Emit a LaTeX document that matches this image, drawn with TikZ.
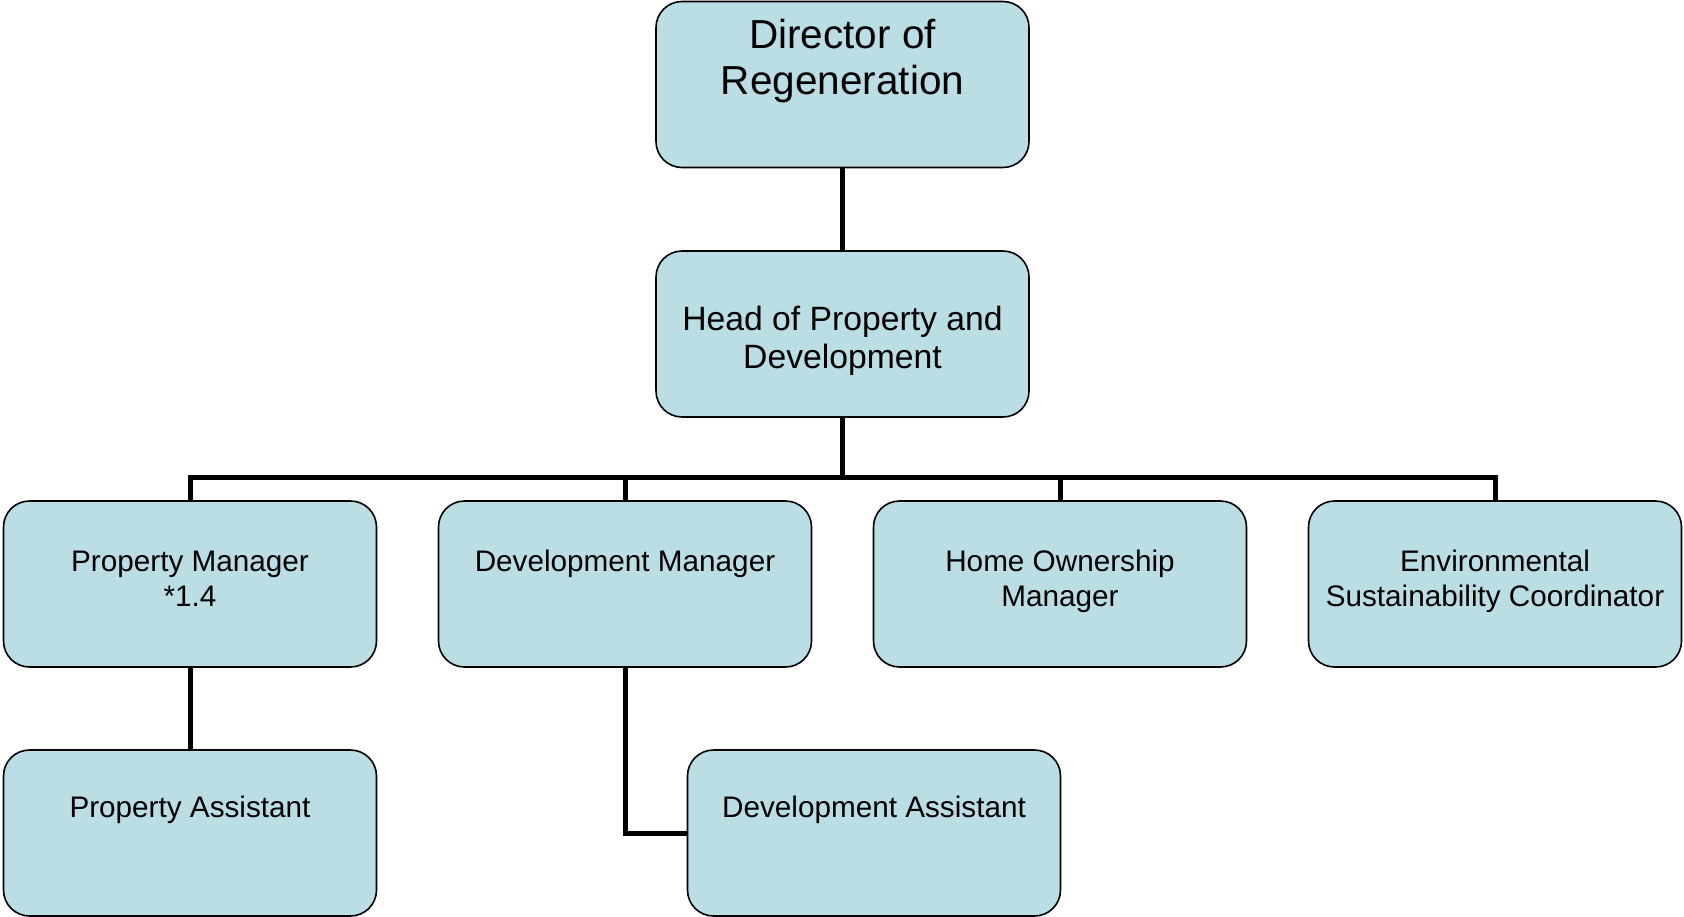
\documentclass[tikz,border=0pt]{standalone}
\usepackage{fontspec}
\setmainfont{Liberation Sans}
\definecolor{boxfill}{HTML}{BADEE4}
% centred lines whose reference point is the first baseline
\newcommand\stacked[1]{\begin{tabular}[t]{@{}c@{}}#1\end{tabular}}
\begin{document}
\begin{tikzpicture}[x=1pt,y=-1pt,
  post/.style={draw=black, line width=1.6pt, fill=boxfill, rounded corners=26pt,
               minimum width=373pt, minimum height=166pt, inner sep=0pt},
  caption/.style={anchor=base, inner sep=0pt},
  bigtext/.style={font=\fontsize{40.5}{46}\selectfont},
  midtext/.style={font=\fontsize{33.7}{38}\selectfont},
  smalltext/.style={font=\fontsize{29.7}{35}\selectfont},
  wire/.style={line width=5pt, line cap=butt, line join=miter}]
\useasboundingbox (0,0) rectangle (1684,916);

% boxes
\node[post] (dir)  at (842.5, 84.5) {};
\node[post] (head) at (842.5, 334)  {};
\node[post] (pm)   at (190, 584)    {};
\node[post] (dm)   at (625, 584)    {};
\node[post] (hom)  at (1060, 584)   {};
\node[post] (esc)  at (1495, 584)   {};
\node[post] (pa)   at (190, 833)    {};
\node[post] (da)   at (874, 833)    {};

% titles
\node[caption, bigtext]   (dirT)  at (842.5, 48.5) {\stacked{Director of\\Regeneration}};
\node[caption, midtext]   (headT) at (842.5, 330)  {\stacked{Head of Property and\\Development}};
\node[caption, smalltext] (pmT)   at (190, 571.7)  {\stacked{Property Manager\\{}*1.4}};
\node[caption, smalltext] (dmT)   at (625, 571.7)  {\stacked{Development Manager}};
\node[caption, smalltext] (homT)  at (1060, 571.7) {\stacked{Home Ownership\\Manager}};
\node[caption, smalltext] (escT)  at (1495, 571.7) {\stacked{Environmental\\Sustainability Coordinator}};
\node[caption, smalltext] (paT)   at (190, 817)    {\stacked{Property Assistant}};
\node[caption, smalltext] (daT)   at (874, 817)    {\stacked{Development Assistant}};

% reporting lines
\coordinate (bus) at (842.5, 477.3);
\draw[wire] (dir.south) -- (head.north);
\draw[wire] (head.south) -- (bus);
\draw[wire] (pm.north) -- (pm.north |- bus) -- (esc.north |- bus) -- (esc.north);
\draw[wire] (dm.north) -- (dm.north |- bus);
\draw[wire] (hom.north) -- (hom.north |- bus);
\draw[wire] (pm.south) -- (pa.north);
\draw[wire] (dm.south) |- (da.west);
\end{tikzpicture}
\end{document}
